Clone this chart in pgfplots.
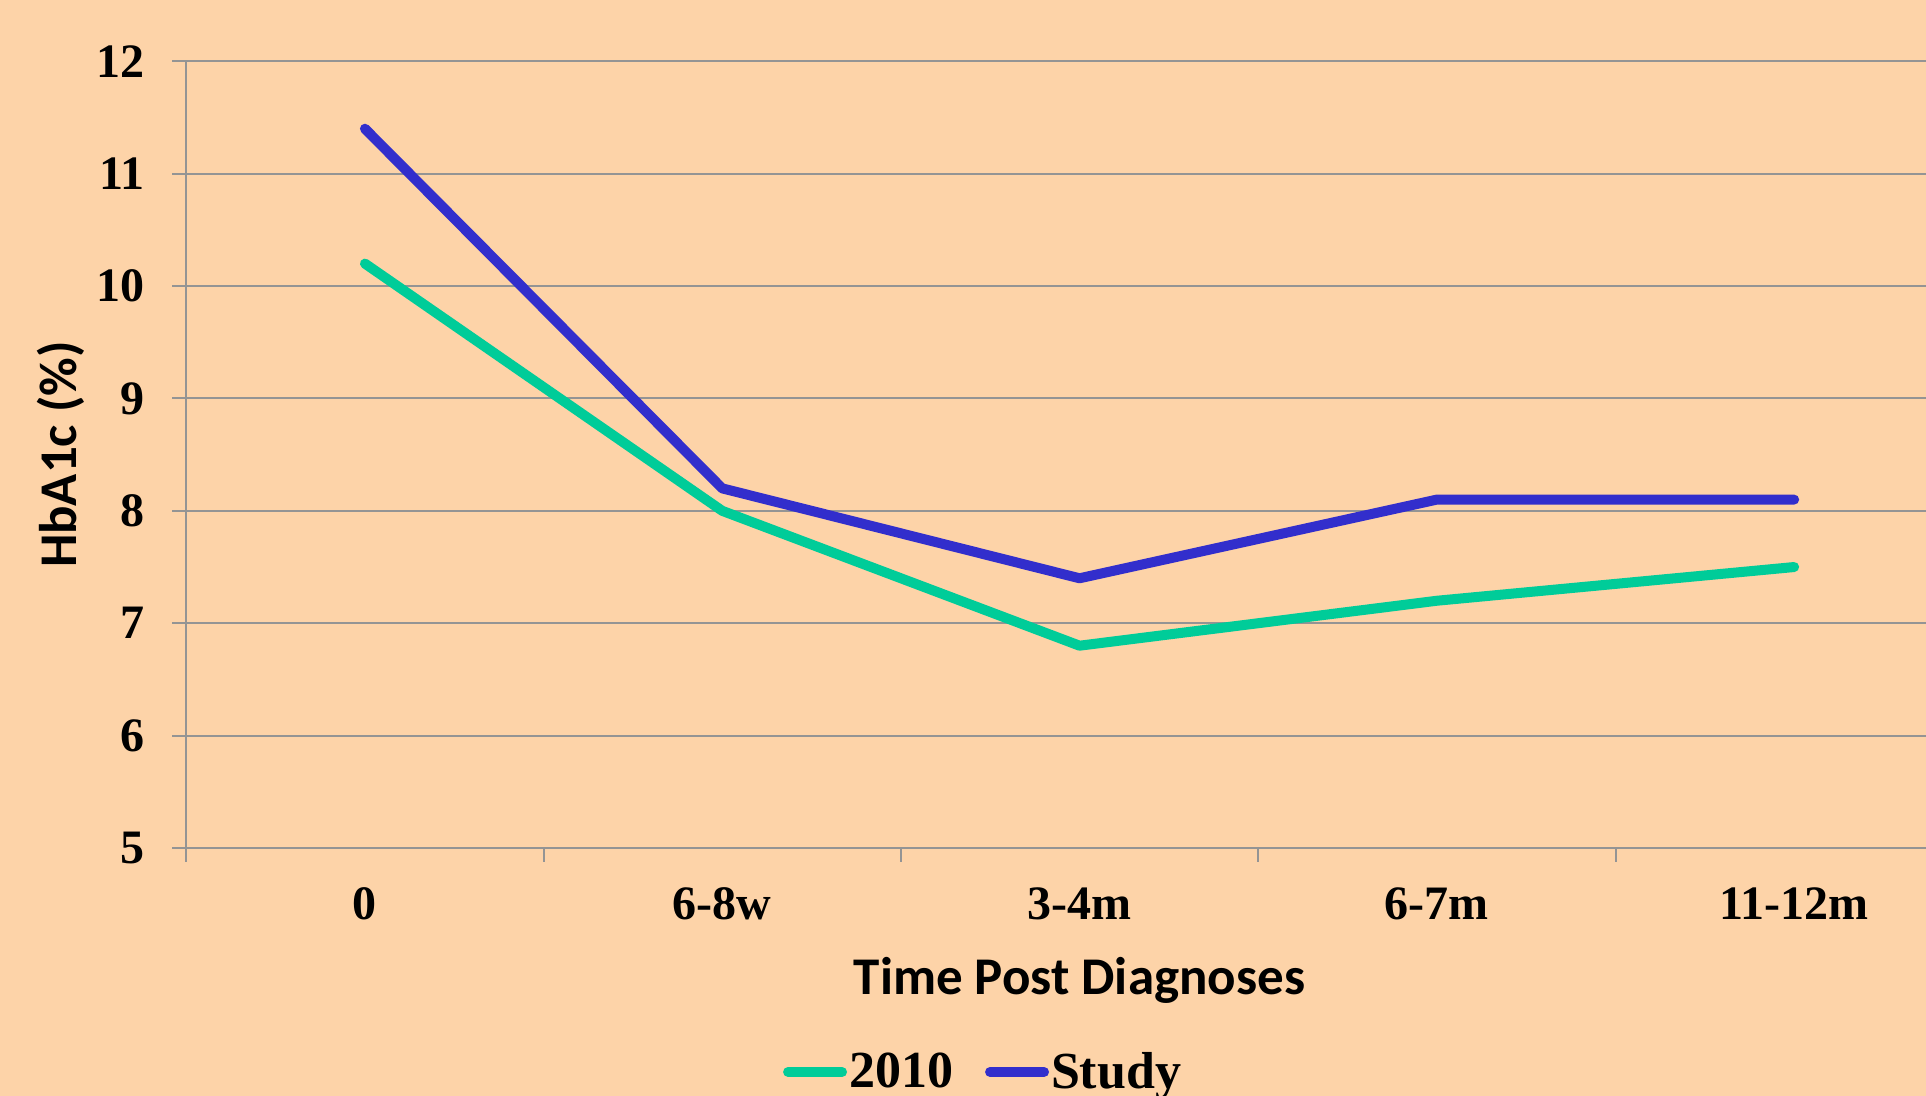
\documentclass[border=0pt]{standalone}
\usepackage{fontspec}
\setmainfont{Liberation Serif}
\newfontfamily\calibri{Carlito}
\usepackage{pgfplots}
\pgfplotsset{compat=1.18}
\definecolor{bg}{RGB}{253,211,168}
\definecolor{grn}{RGB}{0,204,153}
\definecolor{blu}{RGB}{50,46,204}
\definecolor{gridc}{RGB}{148,148,148}
\begin{document}
\begin{tikzpicture}
\useasboundingbox (-93.15pt,-124pt) rectangle (869.85pt,424pt);
\fill[bg] (-93.15pt,-124pt) rectangle (869.85pt,424pt);
\clip (-93.15pt,-124pt) rectangle (869.85pt,424pt);
\begin{axis}[
  at={(0pt,0pt)}, anchor=south west,
  scale only axis, width=893.25pt, height=393.35pt,
  xmin=-0.5, xmax=4.5, ymin=5, ymax=12,
  ytick={5,6,7,8,9,10,11,12},
  xtick={-0.5,0.5,1.5,2.5,3.5,4.5}, xticklabels={},
  extra x ticks={0,1,2,3,4},
  extra x tick labels={0,6-8w,3-4m,6-7m,11-12m},
  extra x tick style={major tick length=0pt, xticklabel style={anchor=base, yshift=-36pt, inner sep=0pt}},
  tick align=outside, major tick length=7pt, tick pos=left,
  tick style={gridc, line width=1pt},
  axis line style={gridc, line width=1pt},
  ymajorgrids, major grid style={gridc, line width=1pt},
  /pgf/number format/assume math mode=true,
  ticklabel style={font=\fontsize{24}{28}\selectfont\bfseries, text=black},
  yticklabel style={anchor=east, inner sep=0pt, xshift=-13.5pt},
  xlabel={\calibri\bfseries Time Post Diagnoses},
  ylabel={\calibri\bfseries HbA1c (\%)},
  every axis x label/.style={at={(axis description cs:0.5,-0.1856)}, anchor=base, font=\fontsize{26.5}{30}\selectfont},
  every axis y label/.style={at={(axis description cs:-0.0701,0.5)}, rotate=90, anchor=center, font=\fontsize{26.5}{30}\selectfont},
  legend columns=2,
  legend style={draw=none, fill=none, at={(axis description cs:0.446,-0.2847)}, anchor=center,
    font=\fontsize{26}{30}\selectfont\bfseries, inner sep=0pt,
    nodes={inner sep=1pt},
    /tikz/every even column/.append style={column sep=15pt}},
  legend image code/.code={\draw[#1, line width=5pt, line cap=round] (0pt,0pt) -- (27pt,0pt);},
]
\addplot[grn, line width=5pt, line cap=round, line join=round] coordinates {(0,10.2) (1,8.0) (2,6.8) (3,7.2) (4,7.5)};
\addlegendentry{2010}
\addplot[blu, line width=5pt, line cap=round, line join=round] coordinates {(0,11.4) (1,8.2) (2,7.4) (3,8.1) (4,8.1)};
\addlegendentry{Study}
\end{axis}
\end{tikzpicture}
\end{document}
